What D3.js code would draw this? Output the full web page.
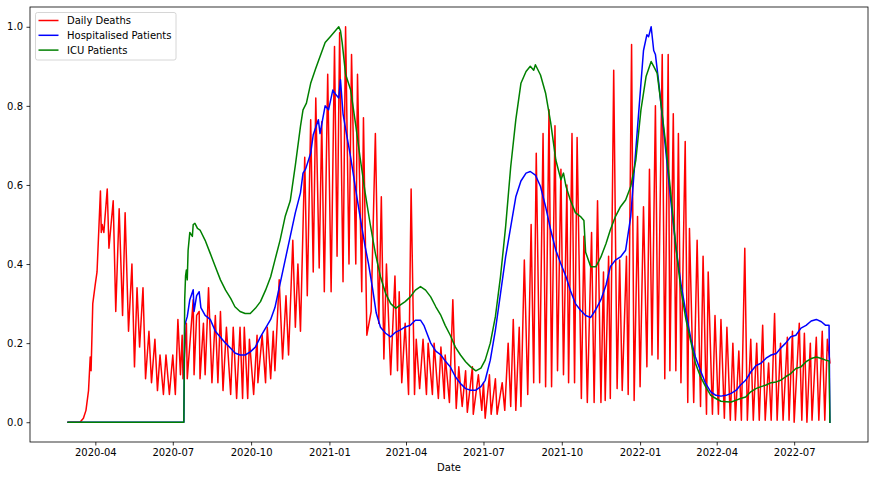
<!DOCTYPE html>
<html><head><meta charset="utf-8">
<script src="https://cdn.jsdelivr.net/npm/d3@7"></script>
<style>
body{margin:0;background:#fff}
svg{display:block}
text{font-family:"DejaVu Sans",sans-serif}
</style>
</head><body>
<svg id="chart" width="874" height="480"></svg>
<script>
// ---------- data ----------
const startDate = "2020-02-29";            // day 0 of every series
const seriesNames = ["Daily Deaths", "Hospitalised Patients", "ICU Patients"];
const seriesColors = ["#ff0000", "#0000ff", "#008000"];
const xTickLabels = ["2020-04","2020-07","2020-10","2021-01","2021-04","2021-07","2021-10","2022-01","2022-04","2022-07"];
const yTickValues = [0.0, 0.2, 0.4, 0.6, 0.8, 1.0];
const xLabel = "Date";

// [day since startDate, normalised value]
const deaths = [
 [0,0],[14,0],[18,0.01],[21,0.03],[24,0.08],[26,0.165],[27,0.13],[29,0.30],[32,0.35],[34,0.38],
 [38,0.585],[39,0.48],[40,0.50],[42,0.48],[46,0.59],[48,0.44],[53,0.56],[56,0.28],[60,0.54],[64,0.27],
 [67,0.53],[71,0.23],[75,0.40],[78,0.14],[81,0.34],[84,0.19],[88,0.34],[91,0.11],[95,0.23],[98,0.10],
 [102,0.21],[105,0.08],[108,0.17],[112,0.07],[115,0.17],[119,0.07],[123,0.17],[126,0.07],[129,0.26],[132,0.12],
 [134,0.22],[135,0.11],[139,0.25],[140,0.11],[147,0.31],[148,0.12],[151,0.27],[154,0.28],[155,0.11],[159,0.25],
 [161,0.12],[165,0.34],[169,0.10],[173,0.27],[176,0.10],[179,0.28],[182,0.08],[186,0.24],[191,0.07],[194,0.24],
 [198,0.06],[202,0.24],[205,0.06],[207,0.24],[211,0.06],[213,0.21],[218,0.07],[222,0.22],[223,0.10],[228,0.22],
 [232,0.10],[234,0.24],[238,0.11],[241,0.23],[243,0.13],[248,0.36],[252,0.16],[256,0.32],[259,0.17],[264,0.46],
 [267,0.24],[270,0.40],[273,0.23],[278,0.67],[281,0.32],[285,0.765],[288,0.38],[291,0.82],[295,0.39],[298,0.76],
 [301,0.33],[305,0.88],[309,0.33],[313,0.95],[316,0.42],[319,0.985],[323,0.355],[326,1.0],[330,0.40],[333,0.93],
 [338,0.40],[340,0.88],[345,0.33],[347,0.77],[351,0.22],[356,0.28],[361,0.73],[365,0.25],[368,0.57],[371,0.16],
 [374,0.40],[379,0.12],[384,0.37],[387,0.13],[389,0.33],[392,0.10],[396,0.25],[400,0.07],[403,0.59],[407,0.07],
 [409,0.21],[413,0.085],[417,0.21],[421,0.07],[423,0.20],[428,0.07],[430,0.20],[435,0.06],[438,0.19],[442,0.06],
 [443,0.17],[448,0.05],[452,0.31],[456,0.035],[459,0.14],[463,0.04],[467,0.13],[469,0.025],[475,0.14],[476,0.02],
 [482,0.12],[486,0.03],[488,0.10],[490,0.01],[495,0.12],[497,0.02],[502,0.11],[504,0.02],[510,0.10],[513,0.03],
 [517,0.20],[520,0.04],[523,0.26],[526,0.03],[530,0.24],[532,0.04],[536,0.41],[540,0.07],[544,0.50],[547,0.10],
 [550,0.68],[554,0.10],[558,0.73],[561,0.09],[565,0.79],[568,0.09],[572,0.75],[575,0.13],[579,0.64],[582,0.12],
 [586,0.60],[588,0.10],[592,0.73],[595,0.10],[598,0.72],[603,0.06],[606,0.47],[610,0.05],[615,0.48],[618,0.05],
 [622,0.56],[626,0.05],[629,0.38],[631,0.055],[635,0.42],[637,0.06],[641,0.89],[645,0.085],[648,0.41],[651,0.08],
 [656,0.42],[658,0.07],[662,0.955],[665,0.055],[669,0.52],[672,0.09],[676,0.545],[680,0.14],[683,0.64],[686,0.17],
 [690,0.80],[693,0.16],[698,0.93],[701,0.11],[705,0.93],[707,0.13],[711,0.78],[714,0.13],[717,0.73],[720,0.10],
 [725,0.71],[728,0.05],[730,0.49],[735,0.05],[739,0.46],[743,0.04],[746,0.42],[750,0.02],[752,0.38],[757,0.02],
 [760,0.27],[764,0.02],[767,0.26],[771,0.01],[774,0.24],[778,0.005],[781,0.20],[784,0.005],[788,0.18],[791,0.005],
 [795,0.44],[798,0.005],[802,0.21],[805,0.005],[809,0.20],[812,0.005],[816,0.245],[819,0.005],[823,0.15],[826,0.005],
 [830,0.275],[833,0.005],[837,0.20],[840,0.005],[845,0.215],[847,0.005],[851,0.23],[853,0.0],[859,0.25],[862,0.005],
 [865,0.225],[868,0.0],[872,0.20],[874,0.005],[879,0.215],[882,0.005],[886,0.23],[889,0.005],[892,0.21],[895,0.15]
];

const hospitalised = [
 [0,0],[136,0],[137,0.245],[140,0.267],[143,0.31],[147,0.335],[148,0.28],[151,0.32],[154,0.33],[156,0.29],
 [161,0.27],[167,0.26],[173,0.23],[179,0.215],[185,0.20],[191,0.187],[196,0.175],[202,0.17],[208,0.17],[214,0.178],
 [220,0.19],[226,0.216],[232,0.238],[238,0.26],[243,0.29],[249,0.35],[255,0.41],[261,0.47],[267,0.53],[273,0.58],
 [276,0.63],[279,0.64],[285,0.68],[288,0.727],[294,0.765],[296,0.73],[299,0.765],[302,0.80],[306,0.79],[311,0.84],
 [314,0.83],[318,0.82],[320,0.866],[323,0.78],[327,0.73],[332,0.67],[338,0.587],[343,0.52],[349,0.444],[353,0.40],
 [358,0.334],[362,0.276],[367,0.24],[373,0.225],[379,0.216],[385,0.228],[390,0.233],[396,0.241],[402,0.245],[408,0.258],
 [414,0.258],[418,0.245],[421,0.228],[426,0.20],[432,0.18],[438,0.17],[443,0.155],[449,0.14],[455,0.115],[461,0.098],
 [467,0.085],[473,0.081],[479,0.081],[485,0.09],[490,0.106],[496,0.157],[502,0.233],[508,0.325],[514,0.418],[520,0.494],
 [526,0.57],[532,0.61],[538,0.63],[543,0.634],[549,0.625],[555,0.596],[561,0.545],[567,0.486],[573,0.435],[579,0.40],
 [585,0.368],[590,0.334],[596,0.30],[602,0.283],[608,0.27],[614,0.265],[620,0.285],[626,0.31],[632,0.347],[637,0.393],
 [643,0.41],[649,0.418],[655,0.435],[661,0.52],[667,0.69],[673,0.857],[676,0.94],[680,0.98],[682,0.975],[685,1.0],
 [688,0.94],[690,0.93],[694,0.857],[696,0.815],[702,0.69],[708,0.562],[714,0.444],[720,0.35],[726,0.275],[732,0.207],
 [737,0.165],[743,0.13],[749,0.098],[755,0.077],[761,0.068],[767,0.066],[773,0.068],[779,0.073],[785,0.081],[790,0.094],
 [796,0.106],[802,0.127],[808,0.143],[814,0.149],[820,0.162],[826,0.17],[832,0.174],[837,0.187],[843,0.20],[849,0.216],
 [855,0.22],[861,0.238],[867,0.245],[873,0.256],[879,0.26],[885,0.254],[890,0.245],[894,0.245],[895,0]
];

const icu = [
 [0,0],[136,0],[137,0.31],[138,0.37],[139,0.385],[140,0.36],[141,0.435],[143,0.48],[146,0.47],[147,0.50],
 [149,0.503],[152,0.49],[155,0.486],[161,0.46],[167,0.427],[173,0.393],[179,0.36],[185,0.334],[191,0.313],[196,0.292],
 [202,0.28],[208,0.275],[214,0.275],[220,0.288],[226,0.305],[232,0.334],[238,0.368],[243,0.41],[249,0.46],[255,0.52],
 [261,0.56],[267,0.65],[273,0.748],[276,0.79],[280,0.807],[285,0.857],[291,0.895],[296,0.925],[302,0.96],[308,0.975],
 [314,0.99],[318,1.0],[320,0.99],[322,0.96],[326,0.88],[332,0.84],[338,0.75],[343,0.67],[349,0.58],[355,0.50],
 [361,0.427],[367,0.368],[373,0.326],[379,0.30],[385,0.288],[390,0.296],[396,0.305],[402,0.317],[408,0.334],[414,0.343],
 [420,0.334],[426,0.317],[432,0.292],[438,0.27],[443,0.245],[449,0.22],[455,0.19],[461,0.17],[467,0.153],[473,0.14],
 [479,0.13],[485,0.137],[490,0.157],[496,0.20],[502,0.267],[508,0.368],[514,0.494],[520,0.646],[526,0.765],[532,0.857],
 [538,0.887],[543,0.90],[547,0.89],[549,0.904],[555,0.878],[561,0.832],[567,0.757],[573,0.663],[579,0.613],[582,0.63],
 [585,0.596],[590,0.562],[596,0.53],[602,0.52],[606,0.51],[608,0.43],[614,0.393],[620,0.393],[626,0.418],[632,0.452],
 [637,0.486],[643,0.52],[649,0.545],[655,0.562],[661,0.596],[667,0.663],[673,0.79],[679,0.874],[685,0.912],[688,0.90],
 [692,0.883],[696,0.815],[702,0.705],[708,0.58],[714,0.444],[720,0.334],[726,0.258],[732,0.20],[737,0.149],[743,0.115],
 [749,0.09],[755,0.068],[761,0.06],[767,0.053],[773,0.052],[779,0.051],[785,0.056],[790,0.06],[796,0.064],[802,0.077],
 [808,0.085],[814,0.09],[820,0.094],[826,0.10],[832,0.102],[837,0.106],[843,0.115],[849,0.123],[855,0.136],[861,0.14],
 [867,0.153],[873,0.161],[879,0.165],[885,0.161],[890,0.157],[894,0.155],[895,0]
];

// ---------- layout ----------
const W = 874, H = 480;
const plot = {left: 30, right: 868, top: 7, bottom: 442};
const svg = d3.select("#chart");

const t0 = d3.utcParse("%Y-%m-%d")(startDate);
const dayMs = 864e5;
const toDate = d => new Date(t0.getTime() + d * dayMs);
const allSeries = [deaths, hospitalised, icu];
const lastDay = d3.max(allSeries, s => d3.max(s, p => p[0]));
const firstDay = d3.min(allSeries, s => d3.min(s, p => p[0]));
const span = lastDay - firstDay;

const x = d3.scaleUtc()
  .domain([toDate(firstDay - 0.05 * span), toDate(lastDay + 0.05 * span)])
  .range([plot.left, plot.right]);
const y = d3.scaleLinear().domain([-0.05, 1.05]).range([plot.bottom, plot.top]);

svg.append("rect").attr("width", W).attr("height", H).attr("fill", "#fff");

svg.append("defs").append("clipPath").attr("id", "clip")
  .append("rect").attr("x", plot.left).attr("y", plot.top)
  .attr("width", plot.right - plot.left).attr("height", plot.bottom - plot.top);

// lines
const line = d3.line().x(p => x(toDate(p[0]))).y(p => y(p[1]));
const lines = svg.append("g").attr("clip-path", "url(#clip)");
allSeries.forEach((s, i) => {
  lines.append("path").datum(s)
    .attr("d", line)
    .attr("fill", "none")
    .attr("stroke", seriesColors[i])
    .attr("stroke-width", 1.5)
    .attr("stroke-linejoin", "round")
    .attr("stroke-linecap", "square");
});

// axes
const parseMonth = d3.utcParse("%Y-%m");
const xAxis = d3.axisBottom(x)
  .tickValues(xTickLabels.map(parseMonth))
  .tickFormat(d3.utcFormat("%Y-%m"))
  .tickSize(3.5).tickPadding(3.5).tickSizeOuter(0);
const gx = svg.append("g").attr("transform", `translate(0,${plot.bottom})`).call(xAxis);
const yAxis = d3.axisLeft(y)
  .tickValues(yTickValues)
  .tickFormat(d3.format(".1f"))
  .tickSize(3.5).tickPadding(3.5).tickSizeOuter(0);
const gy = svg.append("g").attr("transform", `translate(${plot.left},0)`).call(yAxis);
[gx, gy].forEach(g => {
  g.select(".domain").remove();
  g.selectAll(".tick line").attr("stroke", "#000").attr("stroke-width", 0.8);
  g.selectAll(".tick text").attr("fill", "#000").style("font-size", "10px")
    .style("font-family", "'DejaVu Sans', sans-serif");
});

// frame
svg.append("rect")
  .attr("x", plot.left).attr("y", plot.top)
  .attr("width", plot.right - plot.left).attr("height", plot.bottom - plot.top)
  .attr("fill", "none").attr("stroke", "#000").attr("stroke-width", 0.8);

// x label
svg.append("text")
  .attr("x", (plot.left + plot.right) / 2).attr("y", 471)
  .attr("text-anchor", "middle").style("font-size", "10px").attr("fill", "#000")
  .text(xLabel);

// legend
const lg = svg.append("g");
lg.append("rect")
  .attr("x", 35.5).attr("y", 12.5).attr("width", 140.5).attr("height", 47.5)
  .attr("rx", 2).attr("fill", "#fff").attr("fill-opacity", 0.8)
  .attr("stroke", "#cccccc").attr("stroke-width", 0.8);
seriesNames.forEach((name, i) => {
  const cy = 20.5 + i * 14.8;
  lg.append("line").attr("x1", 38.5).attr("x2", 58.5).attr("y1", cy).attr("y2", cy)
    .attr("stroke", seriesColors[i]).attr("stroke-width", 1.5);
  lg.append("text").attr("x", 67).attr("y", cy).attr("dy", "0.36em")
    .style("font-size", "10px").attr("fill", "#000").text(name);
});
</script>
</body></html>
